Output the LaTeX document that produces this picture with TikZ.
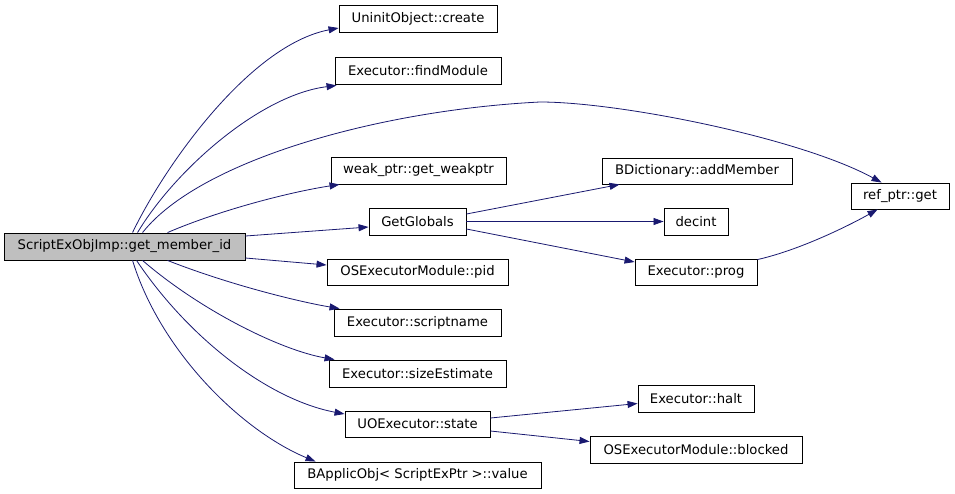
\documentclass[tikz,border=0pt]{standalone}
\usepackage{fontspec}
\setmainfont{DejaVu Sans}
\usetikzlibrary{arrows.meta,calc}
\definecolor{edgeblue}{HTML}{191970}
\definecolor{maingray}{HTML}{BFBFBF}
\begin{document}
\begin{tikzpicture}[x=1pt,y=-1pt,
  box/.style={draw=black,line width=0.9pt,fill=white,rectangle,inner sep=0pt,
    font=\fontsize{13.2}{15}\selectfont},
  mainbox/.style={box,fill=maingray},
  edge/.style={draw=edgeblue,line width=0.8pt,-{Triangle[length=10pt,width=7pt]}}]
\useasboundingbox (0,0) rectangle (955,493);
\fill[white] (0,0) rectangle (955,493);
% nodes
\node[mainbox,minimum width=241pt,minimum height=27pt] (main) at (124.5,246.5) {ScriptExObjImp::get\_member\_id};
\node[box,minimum width=158pt,minimum height=27pt] (uninit) at (418,18.5) {UninitObject::create};
\node[box,minimum width=166pt,minimum height=27pt] (findmod) at (418,70.5) {Executor::findModule};
\node[box,minimum width=175pt,minimum height=27pt] (weak) at (418.5,170.5) {weak\_ptr::get\_weakptr};
\node[box,minimum width=97pt,minimum height=27pt] (globals) at (417.5,221.5) {GetGlobals};
\node[box,minimum width=181pt,minimum height=26pt] (pid) at (417.5,272) {OSExecutorModule::pid};
\node[box,minimum width=167pt,minimum height=27pt] (script) at (417.5,322.5) {Executor::scriptname};
\node[box,minimum width=177pt,minimum height=27pt] (size) at (417.5,373.5) {Executor::sizeEstimate};
\node[box,minimum width=145pt,minimum height=26pt] (state) at (417.5,424) {UOExecutor::state};
\node[box,minimum width=247pt,minimum height=26pt] (bapp) at (417.5,475) {BApplicObj< ScriptExPtr >::value};
\node[box,minimum width=190pt,minimum height=26pt] (addm) at (697,171) {BDictionary::addMember};
\node[box,minimum width=64pt,minimum height=27pt] (decint) at (696,221.5) {decint};
\node[box,minimum width=122pt,minimum height=26pt] (prog) at (696,272) {Executor::prog};
\node[box,minimum width=98pt,minimum height=26pt] (refget) at (900,196) {ref\_ptr::get};
\node[box,minimum width=116pt,minimum height=27pt] (halt) at (696,398.5) {Executor::halt};
\node[box,minimum width=212pt,minimum height=27pt] (blocked) at (696,449.5) {OSExecutorModule::blocked};
% edges
\draw[edge] ($(main.north west)+(129,0)$) .. controls (165,165) and (250,45) .. ($(uninit.west)+(0,9.5)$);
\draw[edge] ($(main.north west)+(134,0)$) .. controls (175,170) and (260,95) .. ($(findmod.south west)+(2,1)$);
\draw[edge] ($(main.north west)+(139,0)$) .. controls (200,160) and (380,110) .. (540,102)
   .. controls (620,102) and (800,138) .. ($(refget.north west)+(31,0)$);
\draw[edge] ($(main.north west)+(164,0)$) .. controls (220,210) and (290,192) .. ($(weak.south west)+(9,0)$);
\draw[edge] ($(main.east)+(0,-10.5)$) -- ($(globals.west)+(0,5.5)$);
\draw[edge] ($(main.east)+(0,11.5)$) -- ($(pid.west)+(0,-7)$);
\draw[edge] ($(main.south west)+(164,0)$) .. controls (230,285) and (300,302) .. ($(script.north west)+(6,0)$);
\draw[edge] ($(main.south west)+(139,0)$) .. controls (200,310) and (280,350) .. ($(size.north west)+(6,0)$);
\draw[edge] ($(main.south west)+(133,0)$) .. controls (190,340) and (270,400) .. ($(state.west)+(0,-10)$);
\draw[edge] ($(main.south west)+(129,0)$) .. controls (160,350) and (240,430) .. ($(bapp.north west)+(22,0)$);
\draw[edge] ($(globals.east)+(0,-7.5)$) -- ($(addm.south west)+(18,0)$);
\draw[edge] (globals.east) -- (decint.west);
\draw[edge] ($(globals.east)+(0,7.5)$) -- ($(prog.west)+(0,-10)$);
\draw[edge] ($(prog.north east)+(0,1)$) .. controls (800,250) and (850,225) .. ($(refget.south west)+(27,0)$);
\draw[edge] ($(state.east)+(0,-6)$) -- ($(halt.west)+(0,5)$);
\draw[edge] ($(state.east)+(0,7)$) -- ($(blocked.west)+(0,-8)$);
\end{tikzpicture}
\end{document}
